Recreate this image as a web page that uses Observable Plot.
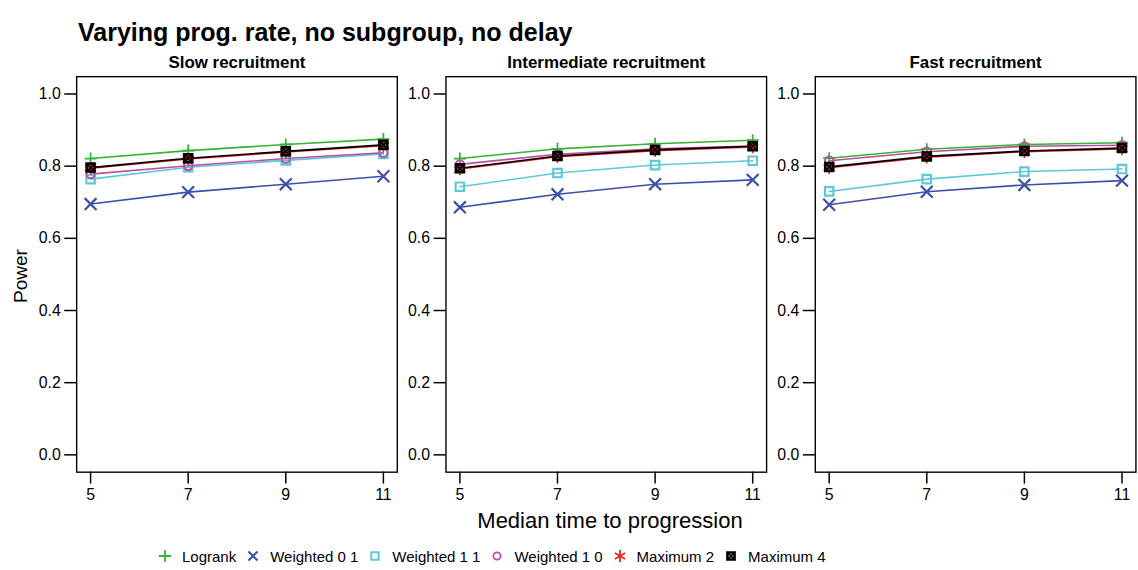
<!DOCTYPE html>
<html>
<head>
<meta charset="utf-8">
<script src="https://cdn.jsdelivr.net/npm/d3@7"></script>
<script src="https://cdn.jsdelivr.net/npm/@observablehq/plot@0.6"></script>
<style>
  html, body { margin: 0; padding: 0; background: #fff; overflow: hidden; }
  body { width: 1138px; height: 570px; position: relative; font-family: "Liberation Sans", Arial, Helvetica, sans-serif; color: #000; }
  #chart { position: absolute; left: 0; top: 0; }
  .abs { position: absolute; white-space: nowrap; line-height: 1; }
  #title { left: 78px; top: 20px; font-size: 25px; font-weight: bold; }
  #xlabel { left: 0; width: 1220px; text-align: center; top: 510px; font-size: 22px; }
  #ylabel { left: 20px; top: 276px; font-size: 19px; transform: translate(-50%, -50%) rotate(-90deg); }
  #legend { position: absolute; left: 157px; top: 548px; display: flex; align-items: center; font-size: 15px; line-height: 1; white-space: nowrap; }
  #legend svg { display: block; margin-right: 9px; }
  #legend span { margin-right: 9px; }
</style>
</head>
<body>
<div id="chart"></div>
<div id="title" class="abs">Varying prog. rate, no subgroup, no delay</div>
<div id="xlabel" class="abs">Median time to progression</div>
<div id="ylabel" class="abs">Power</div>
<div id="legend"></div>
<script>
const xs = [5, 7, 9, 11];
const yTicks = [0, 0.2, 0.4, 0.6, 0.8, 1.0];
const panels = ["Slow recruitment", "Intermediate recruitment", "Fast recruitment"];
const methods = ["Logrank", "Weighted 0 1", "Weighted 1 1", "Weighted 1 0", "Maximum 2", "Maximum 4"];
const colors = ["#35b335", "#3c50a8", "#5cc8d8", "#b84fa0", "#e6261f", "#000000"];

// power values per method: [slow, intermediate, fast] x [5, 7, 9, 11]
const logrank    = [[0.821, 0.843, 0.860, 0.875], [0.821, 0.848, 0.862, 0.872], [0.822, 0.847, 0.860, 0.865]];
const weighted01 = [[0.695, 0.728, 0.750, 0.772], [0.686, 0.722, 0.750, 0.762], [0.693, 0.729, 0.748, 0.760]];
const weighted11 = [[0.764, 0.797, 0.816, 0.834], [0.743, 0.781, 0.803, 0.815], [0.730, 0.764, 0.785, 0.792]];
const weighted10 = [[0.778, 0.801, 0.821, 0.837], [0.805, 0.833, 0.848, 0.856], [0.815, 0.840, 0.855, 0.858]];
const maximum2   = [[0.794, 0.820, 0.839, 0.857], [0.792, 0.826, 0.843, 0.853], [0.796, 0.825, 0.840, 0.848]];
const maximum4   = [[0.796, 0.822, 0.841, 0.859], [0.794, 0.828, 0.845, 0.855], [0.798, 0.827, 0.842, 0.850]];

const series = [logrank, weighted01, weighted11, weighted10, maximum2, maximum4];
const rows = [];
methods.forEach((m, mi) => panels.forEach((p, pi) => xs.forEach((x, xi) => {
  rows.push({method: m, panel: p, x, power: series[mi][pi][xi]});
})));
const of = m => rows.filter(r => r.method === m);

const FONT = '"Liberation Sans", Arial, Helvetica, sans-serif';
const SW = 1.8;

const lineMarks = methods.map((m, i) =>
  Plot.line(of(m), {x: "x", y: "power", fx: "panel", stroke: colors[i], strokeWidth: 1.6})
);

const dotMarks = [
  Plot.dot(of("Logrank"), {x: "x", y: "power", fx: "panel", symbol: "plus", r: 4, stroke: colors[0], strokeWidth: SW}),
  Plot.dot(of("Weighted 0 1"), {x: "x", y: "power", fx: "panel", symbol: "times", r: 5.5, stroke: colors[1], strokeWidth: SW + 0.4}),
  Plot.dot(of("Weighted 1 1"), {x: "x", y: "power", fx: "panel", symbol: "square", r: 4.8, stroke: colors[2], fill: "none", strokeWidth: SW + 0.4}),
  Plot.dot(of("Weighted 1 0"), {x: "x", y: "power", fx: "panel", symbol: "circle", r: 4.2, stroke: colors[3], fill: "none", strokeWidth: SW + 0.2}),
  Plot.dot(of("Maximum 2"), {x: "x", y: "power", fx: "panel", symbol: "asterisk", r: 6, stroke: colors[4], strokeWidth: 1.6}),
  Plot.dot(of("Maximum 4"), {x: "x", y: "power", fx: "panel", symbol: "square", r: 4.5, stroke: colors[5], fill: "none", strokeWidth: 2.6}),
  Plot.dot(of("Maximum 4"), {x: "x", y: "power", fx: "panel", symbol: "times", r: 4.2, stroke: colors[5], strokeWidth: 1.8})
];

const chart = Plot.plot({
  width: 1146,
  height: 570,
  marginLeft: 76.7,
  marginRight: 2.6,
  marginTop: 76.7,
  marginBottom: 95,
  style: {fontFamily: FONT, fontSize: "16px", color: "#000", background: "transparent", overflow: "visible"},
  fx: {domain: panels, paddingInner: 0.1318, paddingOuter: 0, round: false, axis: null},
  x: {domain: [4.715, 11.285], axis: null},
  y: {domain: [-0.048, 1.048], axis: null},
  marks: [
    Plot.axisFx({anchor: "top", label: null, tickSize: 0, tickPadding: 9, fontWeight: "bold", fontSize: 17}),
    Plot.axisY({ticks: yTicks, tickFormat: d3.format(".1f"), tickSize: 12, tickPadding: 4, strokeWidth: 1.5, label: null, facetAnchor: null, fontSize: 16}),
    Plot.axisX({ticks: xs, tickFormat: d3.format("d"), tickSize: 12, tickPadding: 5, strokeWidth: 1.5, label: null, fontSize: 16}),
    ...lineMarks,
    ...dotMarks,
    Plot.frame({stroke: "#000", strokeWidth: 1.4})
  ]
});
document.getElementById("chart").appendChild(chart);

// Legend
const legend = document.getElementById("legend");
function symSvg(i) {
  const ns = "http://www.w3.org/2000/svg";
  const svg = document.createElementNS(ns, "svg");
  svg.setAttribute("width", 16); svg.setAttribute("height", 16);
  svg.setAttribute("viewBox", "-8 -8 16 16");
  const add = (type, size, stroke, fill, sw) => {
    const p = document.createElementNS(ns, "path");
    p.setAttribute("d", d3.symbol(type, size)());
    p.setAttribute("stroke", stroke); p.setAttribute("fill", fill); p.setAttribute("stroke-width", sw);
    svg.appendChild(p);
  };
  const A = r => Math.PI * r * r;
  if (i === 0) add(d3.symbolPlus, A(4), colors[0], "none", SW);
  if (i === 1) add(d3.symbolTimes, A(4.2), colors[1], "none", SW + 0.2);
  if (i === 2) add(d3.symbolSquare, A(4.2), colors[2], "none", SW + 0.2);
  if (i === 3) add(d3.symbolCircle, A(3.6), colors[3], "none", SW);
  if (i === 4) add(d3.symbolAsterisk, A(5.6), colors[4], "none", 1.8);
  if (i === 5) { add(d3.symbolSquare, A(4.0), colors[5], "none", 2.6); add(d3.symbolTimes, A(3.6), colors[5], "none", 1.6); }
  return svg;
}
methods.forEach((m, i) => {
  legend.appendChild(symSvg(i));
  const t = document.createElement("span");
  t.textContent = m;
  legend.appendChild(t);
});
</script>
</body>
</html>
